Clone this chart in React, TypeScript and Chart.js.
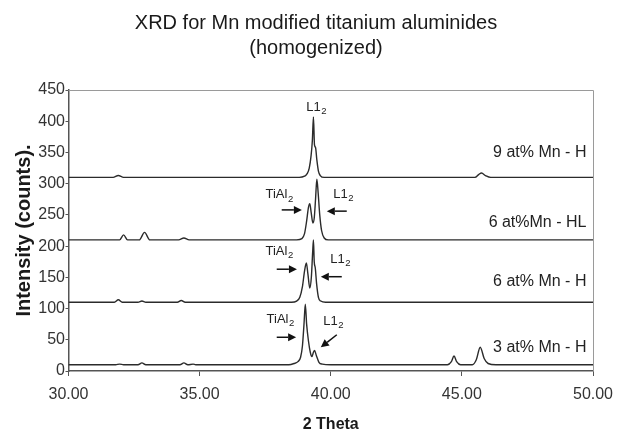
import React, { useEffect, useRef } from "react";
import { Chart, registerables } from "chart.js";

Chart.register(...registerables);

const FONT = "'Liberation Sans', Arial, Helvetica, sans-serif";

// ---------- data ----------
const titleLines = ["XRD for Mn modified titanium aluminides", "(homogenized)"];
const xAxisTitle = "2 Theta";
const yAxisTitle = "Intensity (counts).";
const xTickValues = [30, 35, 40, 45, 50];
const yTickValues = [0, 50, 100, 150, 200, 250, 300, 350, 400, 450];

const seriesNames = ["3 at% Mn - H", "6 at% Mn - H", "6 at%Mn - HL", "9 at% Mn - H"];

const x3H = [30, 31.8, 31.95, 32.1, 32.65, 32.8, 32.95, 34.25, 34.4, 34.55, 34.75, 34.85, 38.4, 38.6, 38.75, 38.85, 38.92, 38.98, 39.03, 39.08, 39.15, 39.22, 39.28, 39.34, 39.38, 39.45, 39.55, 39.68, 40.0, 44.45, 44.6, 44.7, 44.8, 44.95, 45.4, 45.55, 45.7, 45.85, 46.0, 46.3, 50];
const y3H = [10, 10, 11, 10, 10, 13, 10, 10, 13, 10, 11, 10, 10, 12, 15, 22, 40, 75, 107, 75, 48, 30, 23, 30, 33, 25, 14, 11, 10, 10, 15, 24, 15, 10, 10, 18, 38, 20, 12, 10, 10];

const x6H = [30, 31.75, 31.9, 32.05, 32.65, 32.8, 32.95, 34.15, 34.3, 34.45, 38.5, 38.7, 38.82, 38.92, 39.0, 39.07, 39.13, 39.2, 39.26, 39.31, 39.34, 39.37, 39.41, 39.46, 39.53, 39.62, 39.8, 50];
const y6H = [110, 110, 114, 110, 110, 112, 110, 110, 113, 110, 110, 112, 118, 135, 160, 173, 155, 133, 150, 190, 210, 175, 165, 140, 118, 112, 110, 110];

const x6HL = [30, 31.95, 32.1, 32.25, 32.7, 32.9, 33.1, 34.2, 34.4, 34.6, 38.7, 38.9, 39.0, 39.08, 39.15, 39.2, 39.25, 39.32, 39.37, 39.42, 39.47, 39.52, 39.58, 39.65, 39.75, 39.9, 50];
const y6HL = [210, 210, 218, 210, 210, 222, 210, 210, 213, 210, 210, 212, 220, 240, 262, 268, 255, 237, 245, 275, 307, 285, 250, 225, 213, 210, 210];

const x9H = [30, 31.7, 31.9, 32.1, 38.8, 39.0, 39.1, 39.18, 39.25, 39.3, 39.34, 39.38, 39.42, 39.47, 39.53, 39.6, 39.75, 45.5, 45.65, 45.75, 45.9, 46.1, 50];
const y9H = [310, 310, 313, 310, 310, 312, 316, 325, 345, 370, 407, 362, 358, 338, 320, 313, 310, 310, 315, 317, 313, 310, 310];

const seriesX = [x3H, x6H, x6HL, x9H];
const seriesY = [y3H, y6H, y6HL, y9H];

// series name label anchors (data coords, right aligned)
const nameLabelX = 49.75;
const nameLabelY = [37, 143, 237.5, 350];

// peak annotations: [main, sub, x, y] in data coords
const peakLabels: [string, string, number, number][] = [
  ["L1", "2", 39.44, 422],
  ["TiAl", "2", 38.03, 282],
  ["L1", "2", 40.47, 283],
  ["TiAl", "2", 38.03, 192],
  ["L1", "2", 40.36, 179],
  ["TiAl", "2", 38.07, 82],
  ["L1", "2", 40.09, 80],
];

// arrows: [x1, y1, x2, y2] (head at x2,y2) in data coords
const arrows: [number, number, number, number][] = [
  [38.13, 258, 38.9, 258],
  [40.61, 256, 39.85, 256],
  [37.94, 163, 38.71, 163],
  [40.42, 151, 39.62, 151],
  [37.94, 54, 38.68, 54],
  [40.23, 58, 39.62, 38],
];

const overlayPlugin = {
  id: "overlay",
  afterDatasetsDraw(chart: any) {
    const { ctx, chartArea, scales } = chart;
    const xs = scales.x;
    const ys = scales.y;
    ctx.save();
    // frame (top and right)
    ctx.strokeStyle = "#9a9a9a";
    ctx.lineWidth = 1;
    ctx.beginPath();
    ctx.moveTo(chartArea.left, chartArea.top + 0.5);
    ctx.lineTo(chartArea.right + 0.5, chartArea.top + 0.5);
    ctx.lineTo(chartArea.right + 0.5, chartArea.bottom);
    ctx.stroke();

    // series name labels
    ctx.fillStyle = "#222";
    ctx.font = `16px ${FONT}`;
    ctx.textAlign = "right";
    ctx.textBaseline = "middle";
    seriesNames.forEach((n, i) => {
      ctx.fillText(n, xs.getPixelForValue(nameLabelX), ys.getPixelForValue(nameLabelY[i]));
    });

    // peak labels with subscripts
    const size = 13;
    const subSize = 9.5;
    peakLabels.forEach(([main, sub, x, y]) => {
      ctx.font = `${size}px ${FONT}`;
      const w1 = ctx.measureText(main).width;
      ctx.font = `${subSize}px ${FONT}`;
      const w2 = ctx.measureText(sub).width;
      const cx = xs.getPixelForValue(x);
      const cy = ys.getPixelForValue(y);
      const left = cx - (w1 + w2) / 2;
      ctx.textAlign = "left";
      ctx.textBaseline = "middle";
      ctx.font = `${size}px ${FONT}`;
      ctx.fillText(main, left, cy);
      ctx.font = `${subSize}px ${FONT}`;
      ctx.fillText(sub, left + w1 + 0.5, cy + 4);
    });

    // arrows
    ctx.strokeStyle = "#111";
    ctx.fillStyle = "#111";
    ctx.lineWidth = 1.5;
    arrows.forEach(([x1, y1, x2, y2]) => {
      const p1x = xs.getPixelForValue(x1);
      const p1y = ys.getPixelForValue(y1);
      const p2x = xs.getPixelForValue(x2);
      const p2y = ys.getPixelForValue(y2);
      const ang = Math.atan2(p2y - p1y, p2x - p1x);
      const hl = 8;
      const hw = 4;
      const bx = p2x - hl * Math.cos(ang);
      const by = p2y - hl * Math.sin(ang);
      ctx.beginPath();
      ctx.moveTo(p1x, p1y);
      ctx.lineTo(bx, by);
      ctx.stroke();
      ctx.beginPath();
      ctx.moveTo(p2x, p2y);
      ctx.lineTo(bx + hw * Math.sin(ang), by - hw * Math.cos(ang));
      ctx.lineTo(bx - hw * Math.sin(ang), by + hw * Math.cos(ang));
      ctx.closePath();
      ctx.fill();
    });

    // chart title
    ctx.fillStyle = "#1a1a1a";
    ctx.font = `20px ${FONT}`;
    ctx.textAlign = "center";
    ctx.textBaseline = "alphabetic";
    ctx.fillText(titleLines[0], 316, 28.5);
    ctx.fillText(titleLines[1], 316, 53.5);
    ctx.restore();
  },
};

export default function App() {
  const ref = useRef<HTMLCanvasElement | null>(null);
  useEffect(() => {
    if (!ref.current) return;
    Chart.defaults.font.family = FONT;
    const chart = new Chart(ref.current, {
      type: "line",
      data: {
        datasets: seriesNames.map((name, i) => ({
          label: name,
          data: seriesX[i].map((x, j) => ({ x, y: seriesY[i][j] })),
          borderColor: "#2b2b2b",
          borderWidth: 1.4,
          pointRadius: 0,
          fill: false,
          cubicInterpolationMode: "monotone" as const,
        })),
      },
      options: {
        animation: false,
        responsive: false,
        layout: { padding: { top: 90, right: 33, bottom: 0, left: 0 } },
        plugins: {
          legend: { display: false },
          title: { display: false },
          tooltip: { enabled: false },
        },
        scales: {
          x: {
            type: "linear",
            min: 30,
            max: 50,
            afterBuildTicks: (s: any) => {
              s.ticks = xTickValues.map((v) => ({ value: v }));
            },
            ticks: {
              callback: (v: any) => Number(v).toFixed(2),
              font: { size: 16, family: FONT },
              color: "#333",
              padding: 9,
              maxRotation: 0,
            },
            grid: { drawOnChartArea: false, drawTicks: true, tickLength: 5, color: "#555" },
            border: { color: "#555", width: 1.5 },
            title: {
              display: true,
              text: xAxisTitle,
              font: { size: 16, weight: "bold", family: FONT },
              color: "#1a1a1a",
              padding: { top: 0, bottom: -2 },
            },
            afterFit: (s: any) => {
              s.height = 61;
            },
          },
          y: {
            min: 0,
            max: 450,
            afterBuildTicks: (s: any) => {
              s.ticks = yTickValues.map((v) => ({ value: v }));
            },
            ticks: {
              font: { size: 16, family: FONT },
              color: "#333",
              padding: 0.5,
            },
            grid: { drawOnChartArea: false, drawTicks: true, tickLength: 3, color: "#555" },
            border: { color: "#555", width: 1.5 },
            title: {
              display: true,
              text: yAxisTitle,
              font: { size: 20, weight: "bold", family: FONT },
              color: "#1a1a1a",
              padding: { top: 12, bottom: 0 },
            },
            afterFit: (s: any) => {
              s.width = 68.5;
            },
          },
        },
      },
      plugins: [overlayPlugin],
    } as any);
    return () => chart.destroy();
  }, []);
  return (
    <div style={{ position: "absolute", left: 0, top: 0, width: 626, height: 432 }}>
      <canvas ref={ref} width={626} height={432} style={{ display: "block" }} />
    </div>
  );
}
